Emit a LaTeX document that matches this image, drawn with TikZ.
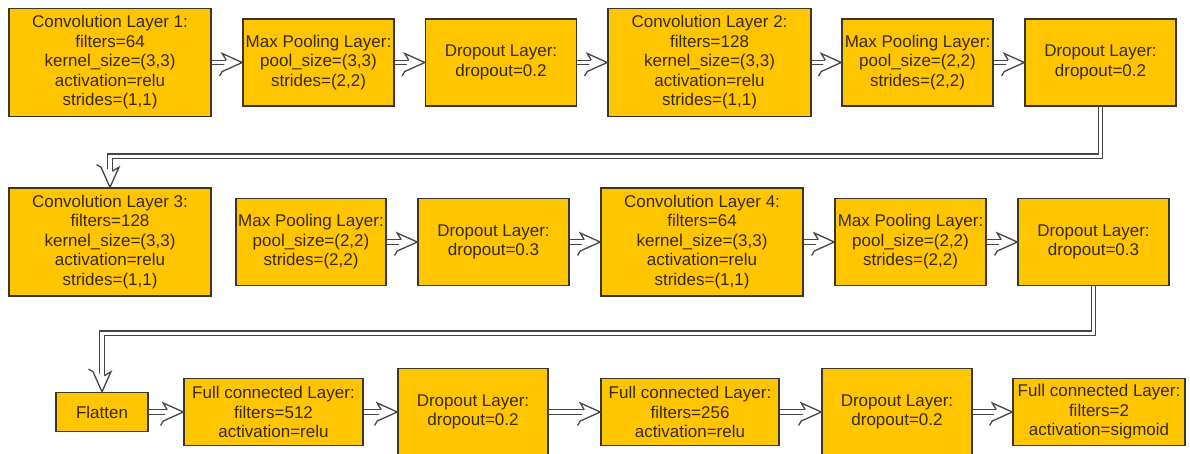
\documentclass[tikz,border=0pt]{standalone}
\usepackage{fontspec}
\setmainfont{Liberation Sans}
\usetikzlibrary{decorations.markings}

\definecolor{boxfill}{RGB}{255,198,0}
\definecolor{boxline}{RGB}{60,55,45}
\definecolor{boxtext}{RGB}{58,42,12}
\definecolor{wire}{RGB}{70,70,70}

\tikzset{
  layer/.style={draw=boxline, line width=1.5pt, fill=boxfill, text=boxtext,
    align=center, inner sep=0pt,
    font=\fontsize{17}{19.5}\selectfont},
  convbox/.style={layer, minimum width=202pt, minimum height=108pt},
  poolbox/.style={layer, minimum width=151pt, minimum height=87pt},
  fcbox/.style={layer, minimum width=178pt, minimum height=67pt},
  hollowhead/.style={postaction={decorate, decoration={markings,
    mark=at position 1 with {\draw[wire, line width=1.3pt, fill=white, line join=miter]
      (-16pt,2.3pt) -- (-20pt,9pt) -- (0pt,0pt) -- (-20pt,-9pt) -- (-16pt,-2.3pt);}}}},
  conn/.style={wire, line width=1.3pt, double=white, double distance=3.3pt,
    shorten >=13pt, hollowhead},
}

\begin{document}
\begin{tikzpicture}[x=1pt, y=-1pt]
\path[use as bounding box, clip] (0,0) rectangle (1190,453);
\fill[white] (0,0) rectangle (1190,453);

% first row
\node[convbox] (c1) at (110,62.5) {Convolution Layer 1:\\filters=64\\kernel\_size=(3,3)\\activation=relu\\strides=(1,1)};
\node[poolbox] (p1) at (318.5,62.5) {Max Pooling Layer:\\pool\_size=(3,3)\\strides=(2,2)};
\node[poolbox] (d1) at (501,62.5) {Dropout Layer:\\dropout=0.2};
\node[convbox, minimum width=203pt] (c2) at (709.5,62.5) {Convolution Layer 2:\\filters=128\\kernel\_size=(3,3)\\activation=relu\\strides=(1,1)};
\node[poolbox] (p2) at (917.5,62.5) {Max Pooling Layer:\\pool\_size=(2,2)\\strides=(2,2)};
\node[poolbox] (d2) at (1100.5,62.5) {Dropout Layer:\\dropout=0.2};

% second row
\node[convbox] (c3) at (110,242) {Convolution Layer 3:\\filters=128\\kernel\_size=(3,3)\\activation=relu\\strides=(1,1)};
\node[poolbox, minimum width=150pt] (p3) at (311,242) {Max Pooling Layer:\\pool\_size=(2,2)\\strides=(2,2)};
\node[poolbox] (d3) at (493.5,242) {Dropout Layer:\\dropout=0.3};
\node[convbox] (c4) at (702,242) {Convolution Layer 4:\\filters=64\\kernel\_size=(3,3)\\activation=relu\\strides=(1,1)};
\node[poolbox] (p4) at (910.5,242) {Max Pooling Layer:\\pool\_size=(2,2)\\strides=(2,2)};
\node[poolbox] (d4) at (1093.5,242) {Dropout Layer:\\dropout=0.3};

% third row
\node[layer, minimum width=92pt, minimum height=39pt] (fl) at (102,412) {Flatten};
\node[fcbox, minimum width=179pt] (f1) at (273.5,412) {Full connected Layer:\\filters=512\\activation=relu};
\node[poolbox, minimum width=150pt] (d5) at (473,412) {Dropout Layer:\\dropout=0.2};
\node[fcbox] (f2) at (690,412) {Full connected Layer:\\filters=256\\activation=relu};
\node[poolbox, minimum width=150pt] (d6) at (897,412) {Dropout Layer:\\dropout=0.2};
\node[fcbox, minimum width=172pt] (f3) at (1099,412) {Full connected Layer:\\filters=2\\activation=sigmoid};

% connectors within the rows
\draw[conn] (c1.east) -- (p1.west);
\draw[conn] (p1.east) -- (d1.west);
\draw[conn] (d1.east) -- (c2.west);
\draw[conn] (c2.east) -- (p2.west);
\draw[conn] (p2.east) -- (d2.west);

\draw[conn] (p3.east) -- (d3.west);
\draw[conn] (d3.east) -- (c4.west);
\draw[conn] (c4.east) -- (p4.west);
\draw[conn] (p4.east) -- (d4.west);

\draw[conn] (fl.east) -- (f1.west);
\draw[conn] (f1.east) -- (d5.west);
\draw[conn] (d5.east) -- (f2.west);
\draw[conn] (f2.east) -- (d6.west);
\draw[conn] (d6.east) -- (f3.west);

% connectors from one row to the next
\draw[conn] (d2.south) -- ++(0,49.5) -| (c3.north);
\draw[conn] (d4.south) -- ++(0,47) -| (fl.north);
\end{tikzpicture}
\end{document}
